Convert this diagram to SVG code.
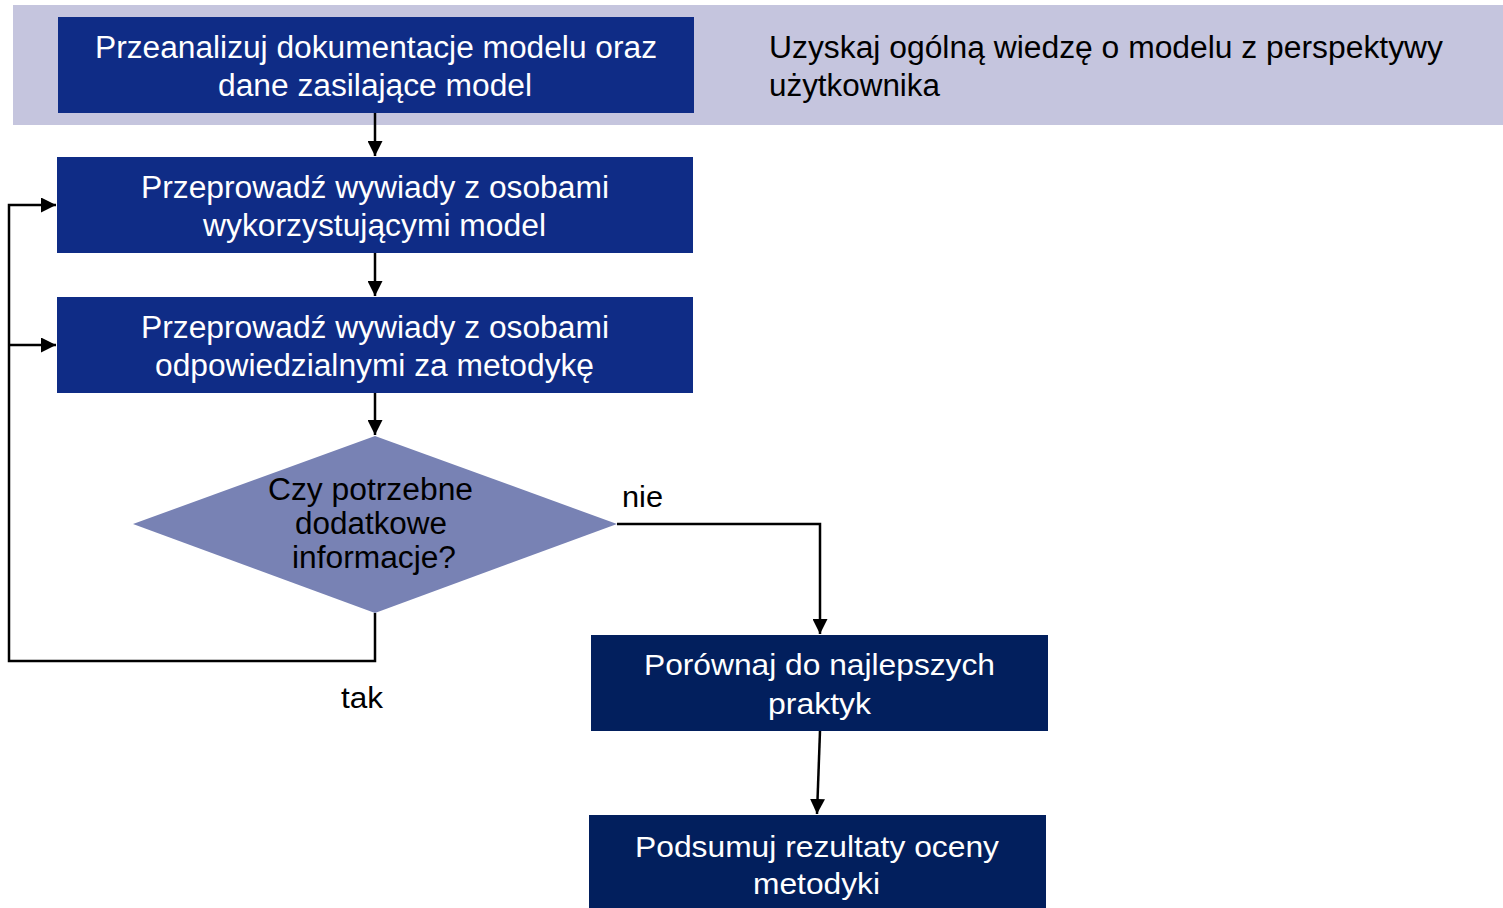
<svg xmlns="http://www.w3.org/2000/svg" width="1503" height="908" viewBox="0 0 1503 908">
  <style>
    text { font-family: "Liberation Sans", Arial, sans-serif; font-size: 29px; }
    .n { font-size: 31px; }
    .w { fill: #ffffff; }
    .k { fill: #000000; }
    .box { fill: #0F2C86; }
    .dark { fill: #021F5D; }
    .wire { fill: none; stroke: #000000; stroke-width: 2.5; }
  </style>
  <defs>
    <marker id="arrow" viewBox="0 0 10 10" refX="10" refY="5" markerWidth="15" markerHeight="15" markerUnits="userSpaceOnUse" orient="auto">
      <path d="M0,0 L10,5 L0,10 z" fill="#000000"/>
    </marker>
  </defs>

  <!-- background band -->
  <rect x="13" y="5" width="1490" height="120" fill="#C5C5DE"/>
  <text class="k n" x="769" y="58" textLength="674" lengthAdjust="spacingAndGlyphs">Uzyskaj ogólną wiedzę o modelu z perspektywy</text>
  <text class="k n" x="769" y="96" textLength="171" lengthAdjust="spacingAndGlyphs">użytkownika</text>

  <!-- connectors -->
  <g id="connectors">
    <path class="wire" d="M375,113 V156" marker-end="url(#arrow)"/>
    <path class="wire" d="M375,253 V296" marker-end="url(#arrow)"/>
    <path class="wire" d="M375,393 V435" marker-end="url(#arrow)"/>
    <path class="wire" d="M375,613 V661 H9 V205 H56" marker-end="url(#arrow)"/>
    <path class="wire" d="M9,345 H56" marker-end="url(#arrow)"/>
    <path class="wire" d="M617,524 H820 V634" marker-end="url(#arrow)"/>
    <path class="wire" d="M820,731 L817,814" marker-end="url(#arrow)"/>
    <text class="k" x="622" y="507" textLength="41" lengthAdjust="spacingAndGlyphs">nie</text>
    <text class="k" x="341" y="708" textLength="42" lengthAdjust="spacingAndGlyphs">tak</text>
  </g>

  <g id="n1">
    <rect class="box" x="58" y="17" width="636" height="96"/>
    <text class="w n" x="95" y="58" textLength="562" lengthAdjust="spacingAndGlyphs">Przeanalizuj dokumentacje modelu oraz</text>
    <text class="w n" x="218" y="96" textLength="314" lengthAdjust="spacingAndGlyphs">dane zasilające model</text>
  </g>

  <g id="n2">
    <rect class="box" x="57" y="157" width="636" height="96"/>
    <text class="w n" x="141" y="198" textLength="468" lengthAdjust="spacingAndGlyphs">Przeprowadź wywiady z osobami</text>
    <text class="w n" x="203" y="236" textLength="343" lengthAdjust="spacingAndGlyphs">wykorzystującymi model</text>
  </g>

  <g id="n3">
    <rect class="box" x="57" y="297" width="636" height="96"/>
    <text class="w n" x="141" y="338" textLength="468" lengthAdjust="spacingAndGlyphs">Przeprowadź wywiady z osobami</text>
    <text class="w n" x="155" y="376" textLength="439" lengthAdjust="spacingAndGlyphs">odpowiedzialnymi za metodykę</text>
  </g>

  <g id="decision">
    <polygon points="375,436 617,524 375,613 133,524" fill="#7882B4"/>
    <text class="k n" x="268" y="500" textLength="205" lengthAdjust="spacingAndGlyphs">Czy potrzebne</text>
    <text class="k n" x="295" y="534" textLength="152" lengthAdjust="spacingAndGlyphs">dodatkowe</text>
    <text class="k n" x="292" y="568" textLength="164" lengthAdjust="spacingAndGlyphs">informacje?</text>
  </g>

  <g id="n4">
    <rect class="dark" x="591" y="635" width="457" height="96"/>
    <text class="w" x="644" y="675" textLength="351" lengthAdjust="spacingAndGlyphs">Porównaj do najlepszych</text>
    <text class="w" x="768" y="714" textLength="103" lengthAdjust="spacingAndGlyphs">praktyk</text>
  </g>

  <g id="n5">
    <rect class="dark" x="589" y="815" width="457" height="93"/>
    <text class="w" x="635" y="857" textLength="364" lengthAdjust="spacingAndGlyphs">Podsumuj rezultaty oceny</text>
    <text class="w" x="753" y="894" textLength="127" lengthAdjust="spacingAndGlyphs">metodyki</text>
  </g>
</svg>
